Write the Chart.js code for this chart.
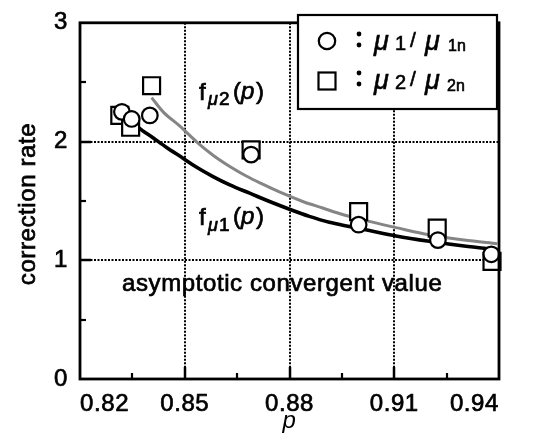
<!DOCTYPE html>
<html>
<head>
<meta charset="utf-8">
<script src="https://cdn.jsdelivr.net/npm/chart.js@4.4.1/dist/chart.umd.min.js"></script>
<style>
html,body{margin:0;padding:0;background:#fff;}
#wrap{width:536px;height:439px;position:relative;}
</style>
</head>
<body>
<div id="wrap"><canvas id="c" width="536" height="439"></canvas></div>
<script>
// ---- axis ticks ----
const xTickValues = [0.82, 0.85, 0.88, 0.91, 0.94];
const yTickValues = [0, 1, 2, 3];
const xMinorTicks = [0.835, 0.865, 0.895, 0.925];
const yMinorTicks = [0.5, 1.5, 2.5];
const xGridValues = [0.85, 0.88, 0.91];
const yGridValues = [1, 2];

// ---- measured points: mu1/mu1n (circles) ----
const pMu1   = [0.8320, 0.8348, 0.8400, 0.8690, 0.8998, 0.9225, 0.9378];
const valMu1 = [2.25,   2.19,   2.22,   1.89,   1.30,   1.17,   1.05];
// ---- measured points: mu2/mu2n (squares) ----
const pMu2   = [0.8314, 0.8345, 0.8405, 0.8690, 0.8998, 0.9223, 0.9380];
const valMu2 = [2.22,   2.12,   2.47,   1.93,   1.41,   1.27,   0.99];

// ---- fitted curve f_mu1(p) ----
const pF1   = [0.8355, 0.8367, 0.8410, 0.8448, 0.8495, 0.8533, 0.8581, 0.8629, 0.8686, 0.8743, 0.8800, 0.8857, 0.8914, 0.8971, 0.9029, 0.9105, 0.9200, 0.9300, 0.9395];
const valF1 = [2.16,   2.12,   2.03,   1.95,   1.86,   1.785,  1.705,  1.635,  1.565,  1.495,  1.43,   1.37,   1.32,   1.285,  1.25,   1.205,  1.16,   1.12,   1.09];
// ---- fitted curve f_mu2(p) ----
const pF2   = [0.8405, 0.8438, 0.8486, 0.8533, 0.8581, 0.8629, 0.8676, 0.8724, 0.8771, 0.8838, 0.8895, 0.8952, 0.9010, 0.9067, 0.9105, 0.9200, 0.9300, 0.9395];
const valF2 = [2.37,   2.25,   2.13,   2.00,   1.885,  1.79,   1.71,   1.64,   1.575,  1.495,  1.44,   1.385,  1.34,   1.30,   1.275,  1.215,  1.17,   1.14];

const FONT = "'Liberation Sans', Arial, Helvetica, sans-serif";
const toXY = (xs, ys) => xs.map((x, i) => ({x: x, y: ys[i]}));

function txt(ctx, t, font, x, y) {
  ctx.font = font;
  ctx.fillText(t, x, y);
  ctx.strokeText(t, x, y);
}

const deco = {
  id: 'deco',
  beforeDraw(chart) {
    chart.ctx.letterSpacing = '0.6px';
  },
  beforeDatasetsDraw(chart) {
    const {ctx, chartArea: a, scales: {x, y}} = chart;
    ctx.save();
    ctx.strokeStyle = '#000';
    ctx.lineWidth = 2;
    ctx.setLineDash([2, 1.5]);
    xGridValues.forEach(v => {
      const px = Math.round(x.getPixelForValue(v));
      ctx.beginPath(); ctx.moveTo(px, a.top); ctx.lineTo(px, a.bottom); ctx.stroke();
    });
    yGridValues.forEach(v => {
      const py = Math.round(y.getPixelForValue(v));
      ctx.beginPath(); ctx.moveTo(a.left, py); ctx.lineTo(a.right, py); ctx.stroke();
    });
    ctx.restore();
  },
  afterDatasetsDraw(chart) {
    const {ctx, chartArea: a, scales: {x, y}} = chart;
    ctx.save();
    ctx.strokeStyle = '#000';
    ctx.setLineDash([]);
    ctx.lineWidth = 2.5;
    xGridValues.forEach(v => {
      const px = Math.round(x.getPixelForValue(v));
      ctx.beginPath(); ctx.moveTo(px, a.bottom); ctx.lineTo(px, a.bottom - 12); ctx.stroke();
    });
    yGridValues.forEach(v => {
      const py = Math.round(y.getPixelForValue(v));
      ctx.beginPath(); ctx.moveTo(a.left, py); ctx.lineTo(a.left + 11, py); ctx.stroke();
    });
    ctx.lineWidth = 2.2;
    xMinorTicks.forEach(v => {
      const px = Math.round(x.getPixelForValue(v));
      ctx.beginPath(); ctx.moveTo(px, a.bottom); ctx.lineTo(px, a.bottom - 6); ctx.stroke();
    });
    yMinorTicks.forEach(v => {
      const py = Math.round(y.getPixelForValue(v));
      ctx.beginPath(); ctx.moveTo(a.left, py); ctx.lineTo(a.left + 6, py); ctx.stroke();
    });
    ctx.lineWidth = 2.8;
    ctx.strokeRect(a.left, a.top, a.right - a.left, a.bottom - a.top);
    ctx.restore();
  },
  afterDraw(chart) {
    const {ctx} = chart;
    ctx.save();
    ctx.fillStyle = '#000';
    ctx.strokeStyle = '#000';
    ctx.lineWidth = 0.7;
    ctx.textBaseline = 'alphabetic';
    ctx.textAlign = 'left';
    ctx.letterSpacing = '0.6px';

    // y axis title
    ctx.save();
    ctx.translate(35, 204);
    ctx.rotate(-Math.PI / 2);
    ctx.textAlign = 'center';
    txt(ctx, 'correction rate', '24px ' + FONT, 0, 0);
    ctx.restore();

    // asymptote label
    txt(ctx, 'asymptotic convergent value', '24px ' + FONT, 122, 291);

    // curve labels
    ctx.letterSpacing = '0px';
    txt(ctx, 'f', '24px ' + FONT, 199, 100);
    txt(ctx, '\u03bc', 'italic 18px ' + FONT, 208, 105);
    txt(ctx, '2', '19px ' + FONT, 219, 105);
    txt(ctx, '(', '24px ' + FONT, 233, 99);
    txt(ctx, 'p', 'italic 24px ' + FONT, 241, 99);
    txt(ctx, ')', '24px ' + FONT, 256, 99);

    txt(ctx, 'f', '24px ' + FONT, 199, 225);
    txt(ctx, '\u03bc', 'italic 18px ' + FONT, 208, 231);
    txt(ctx, '1', '19px ' + FONT, 219, 231);
    txt(ctx, '(', '24px ' + FONT, 233, 224);
    txt(ctx, 'p', 'italic 24px ' + FONT, 241, 224);
    txt(ctx, ')', '24px ' + FONT, 256, 224);

    // legend box
    const L = 298, T = 15, R = 497, B = 109;
    ctx.fillStyle = '#fff';
    ctx.fillRect(L, T, R - L, B - T);
    ctx.lineWidth = 2.2;
    ctx.strokeRect(L, T, R - L, B - T);
    ctx.beginPath(); ctx.arc(327, 41, 8.2, 0, Math.PI * 2); ctx.stroke();
    ctx.strokeRect(327 - 8.5, 81 - 8.5, 17, 17);
    ctx.fillStyle = '#000';
    [34, 45, 73, 84].forEach(yy => {
      ctx.beginPath(); ctx.arc(359, yy, 2.4, 0, Math.PI * 2); ctx.fill();
    });
    ctx.lineWidth = 0.6;
    // row 1
    txt(ctx, '\u03bc', 'italic 27px ' + FONT, 374, 50);
    txt(ctx, '1', '20px ' + FONT, 395, 50);
    txt(ctx, '/', '21px ' + FONT, 410, 47);
    txt(ctx, '\u03bc', 'italic 27px ' + FONT, 425, 50);
    txt(ctx, '1n', '16px ' + FONT, 448, 51);
    // row 2
    txt(ctx, '\u03bc', 'italic 27px ' + FONT, 374, 89);
    txt(ctx, '2', '20px ' + FONT, 395, 89);
    txt(ctx, '/', '21px ' + FONT, 410, 86);
    txt(ctx, '\u03bc', 'italic 27px ' + FONT, 425, 89);
    txt(ctx, '2n', '16px ' + FONT, 447, 91);
    ctx.restore();
  }
};

new Chart(document.getElementById('c'), {
  type: 'scatter',
  data: {
    datasets: [
      {
        label: '\u03bc1/\u03bc1n',
        data: toXY(pMu1, valMu1),
        pointStyle: 'circle',
        pointRadius: 7.8,
        borderColor: '#000',
        backgroundColor: '#fff',
        borderWidth: 2.2,
        clip: false,
        order: 0
      },
      {
        label: '\u03bc2/\u03bc2n',
        data: toXY(pMu2, valMu2),
        pointStyle: 'rect',
        pointRadius: 12,
        borderColor: '#000',
        backgroundColor: '#fff',
        borderWidth: 2.2,
        clip: false,
        order: 1
      },
      {
        label: 'f\u03bc2(p)',
        data: toXY(pF2, valF2),
        showLine: true,
        cubicInterpolationMode: 'monotone',
        borderColor: '#858585',
        borderWidth: 3,
        pointRadius: 0,
        order: 2
      },
      {
        label: 'f\u03bc1(p)',
        data: toXY(pF1, valF1),
        showLine: true,
        cubicInterpolationMode: 'monotone',
        borderColor: '#000',
        borderWidth: 3.6,
        pointRadius: 0,
        order: 3
      }
    ]
  },
  options: {
    responsive: false,
    animation: false,
    devicePixelRatio: 1,
    events: [],
    layout: {padding: {left: 0, right: 37, top: 11, bottom: 0}},
    plugins: {legend: {display: false}, tooltip: {enabled: false}},
    scales: {
      x: {
        type: 'linear',
        min: 0.82, max: 0.94,
        afterBuildTicks: s => { s.ticks = xTickValues.map(v => ({value: v})); },
        afterFit: s => { s.height = 60; },
        grid: {display: false, drawTicks: false},
        border: {display: false},
        ticks: {
          align: 'inner',
          padding: 11,
          color: '#000',
          textStrokeColor: '#000',
          textStrokeWidth: 0.7,
          font: {family: FONT, size: 24, lineHeight: 1.2},
          callback: v => Number(v).toFixed(2)
        },
        title: {
          display: true, text: 'p', color: '#000',
          font: {family: FONT, size: 24, style: 'italic', lineHeight: 1.2},
          padding: {top: 0, bottom: 3}
        }
      },
      y: {
        type: 'linear',
        min: 0, max: 3,
        afterBuildTicks: s => { s.ticks = yTickValues.map(v => ({value: v})); },
        afterFit: s => { s.width = 80; },
        grid: {display: false, drawTicks: false},
        border: {display: false},
        ticks: {
          padding: 12,
          color: '#000',
          textStrokeColor: '#000',
          textStrokeWidth: 0.7,
          font: {family: FONT, size: 24, lineHeight: 0.9},
          callback: v => String(v)
        },
        title: {display: false}
      }
    }
  },
  plugins: [deco]
});
</script>
</body>
</html>
